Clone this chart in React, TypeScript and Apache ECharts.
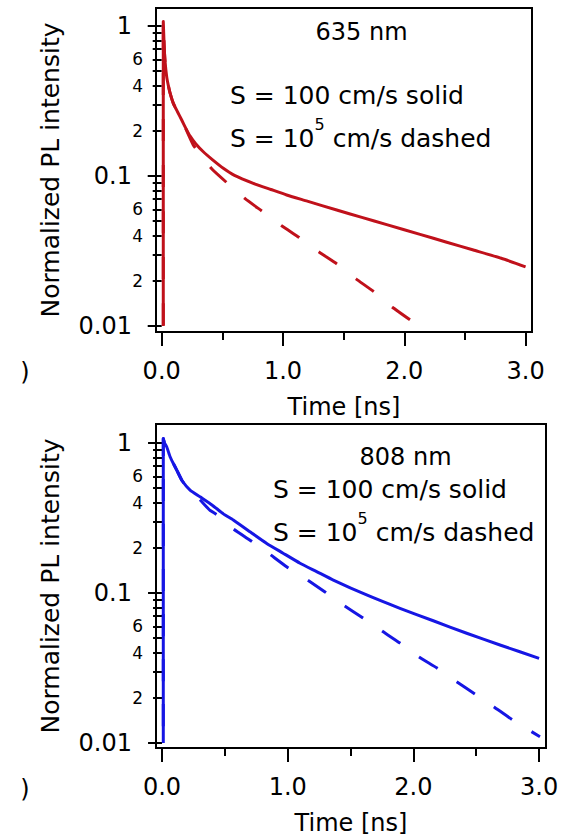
import React, { useEffect, useRef } from "react";
import * as echarts from "echarts";

// ---- data ----
const topSolidT = [0.013, 0.013, 0.02, 0.027, 0.041, 0.055, 0.068, 0.096, 0.13, 0.165, 0.2, 0.233, 0.28, 0.343, 0.42, 0.508, 0.6, 0.755, 0.9, 1.03, 1.2, 1.443, 1.65, 1.855, 2.13, 2.35, 2.57, 2.8, 3.0];
const topSolidV = [0.01, 1.07, 0.75, 0.59, 0.46, 0.4, 0.36, 0.305, 0.268, 0.236, 0.207, 0.185, 0.164, 0.145, 0.128, 0.1125, 0.101, 0.0894, 0.0813, 0.0747, 0.068, 0.0593, 0.053, 0.0474, 0.0408, 0.0362, 0.0321, 0.0283, 0.0248];
const topDashT = [0.013, 0.013, 0.02, 0.027, 0.041, 0.055, 0.068, 0.096, 0.13, 0.165, 0.2, 0.26, 0.34, 0.42, 0.54, 0.69, 0.838, 0.992, 1.14, 1.297, 1.445, 1.602, 1.75, 1.899, 2.047];
const topDashV = [0.01, 1.07, 0.75, 0.59, 0.46, 0.4, 0.36, 0.305, 0.268, 0.236, 0.205, 0.161, 0.132, 0.11, 0.0898, 0.0703, 0.0575, 0.0464, 0.0386, 0.0311, 0.0259, 0.0206, 0.0169, 0.0134, 0.011];

const botSolidT = [0.01, 0.01, 0.02, 0.037, 0.064, 0.09, 0.117, 0.16, 0.223, 0.302, 0.4, 0.488, 0.567, 0.7, 0.833, 0.96, 1.098, 1.23, 1.363, 1.628, 1.893, 2.158, 2.424, 2.689, 3.0];
const botSolidV = [0.01, 1.07, 1.0, 0.945, 0.81, 0.73, 0.66, 0.56, 0.486, 0.438, 0.385, 0.337, 0.307, 0.256, 0.214, 0.185, 0.158, 0.139, 0.122, 0.097, 0.079, 0.0653, 0.0539, 0.045, 0.0367];
const botDashT = [0.01, 0.01, 0.02, 0.037, 0.064, 0.09, 0.117, 0.16, 0.223, 0.3, 0.38, 0.44, 0.557, 0.7, 0.843, 0.994, 1.146, 1.297, 1.44, 1.599, 1.75, 1.893, 2.045, 2.188, 2.347, 2.49, 2.641, 2.792, 3.007];
const botDashV = [0.01, 1.07, 1.0, 0.945, 0.81, 0.73, 0.66, 0.56, 0.48, 0.42, 0.357, 0.331, 0.271, 0.225, 0.185, 0.149, 0.124, 0.1016, 0.0832, 0.0681, 0.0558, 0.0464, 0.0374, 0.0316, 0.0255, 0.0212, 0.0174, 0.0142, 0.011];

const xMajorTicks = [0, 1, 2, 3];
const xMinorTicks = [0.5, 1.5, 2.5];
const yMajorTicks = [0.01, 0.1, 1];
const yMinorTicks = [0.02, 0.03, 0.04, 0.05, 0.06, 0.07, 0.08, 0.09, 0.2, 0.3, 0.4, 0.5, 0.6, 0.7, 0.8, 0.9];
const yMinorLabels = [0.02, 0.04, 0.06, 0.2, 0.4, 0.6];

const RED = "#c0111b";
const BLUE = "#1616e4";
const FONT = "DejaVu Sans";

const zip = (t: number[], v: number[]) => t.map((x, i) => [x, v[i]]);

const majorFmt = (v: number) => {
  const e = Math.round(Math.log10(v));
  return e >= 0 ? "1" : e === -1 ? "0.1" : "0.01";
};
const minorFmt = (v: number) => {
  const e = Math.floor(Math.log10(v) + 1e-9);
  return String(Math.round(v / Math.pow(10, e)));
};

function xAxes(grid: number, min: number, max: number) {
  return [
    {
      type: "value", gridIndex: grid, min, max, position: "bottom",
      axisLine: { show: false }, splitLine: { show: false },
      axisTick: { show: true, customValues: xMajorTicks, length: 14, lineStyle: { color: "#000", width: 2 } },
      axisLabel: { customValues: xMajorTicks, formatter: (v: number) => v.toFixed(1), fontSize: 24, fontFamily: FONT, color: "#000", margin: 27 },
      name: "Time [ns]", nameLocation: "middle", nameGap: 63,
      nameTextStyle: { fontSize: 24, fontFamily: FONT, color: "#000" },
    },
    {
      type: "value", gridIndex: grid, min, max, position: "bottom",
      axisLine: { show: false }, splitLine: { show: false },
      axisTick: { show: true, customValues: xMinorTicks, length: 8, lineStyle: { color: "#000", width: 2 } },
      axisLabel: { show: false },
    },
  ];
}

function yAxes(grid: number, min: number, max: number) {
  return [
    {
      type: "log", logBase: 10, gridIndex: grid, min, max, position: "left",
      axisLine: { show: false }, splitLine: { show: false }, minorSplitLine: { show: false },
      axisTick: { show: true, customValues: yMajorTicks, length: 14, lineStyle: { color: "#000", width: 2 } },
      axisLabel: { customValues: yMajorTicks, formatter: majorFmt, fontSize: 24, fontFamily: FONT, color: "#000", margin: 24 },
      name: "Normalized PL intensity", nameLocation: "middle", nameGap: 93,
      nameTextStyle: { fontSize: 25, fontFamily: FONT, color: "#000" },
    },
    {
      type: "log", logBase: 10, gridIndex: grid, min, max, position: "left",
      axisLine: { show: false }, splitLine: { show: false },
      axisTick: { show: true, customValues: yMinorTicks, length: 9, lineStyle: { color: "#000", width: 2 } },
      axisLabel: { customValues: yMinorLabels, formatter: minorFmt, fontSize: 17, fontFamily: FONT, color: "#000", margin: 13 },
    },
  ];
}

function line(data: number[][], xi: number, yi: number, color: string, dash?: number[], dashOffset = 0) {
  return {
    type: "line", xAxisIndex: xi, yAxisIndex: yi, data, showSymbol: false, symbol: "none",
    smooth: 0.15, silent: true,
    lineStyle: { color, width: 3, type: dash ? dash : "solid", dashOffset, cap: "butt", join: "round" },
  };
}

function txt(x: number, y: number, text: string, size: number, align: string, rich?: any) {
  return {
    type: "text", x, y, silent: true,
    style: {
      text, fontSize: size, fontFamily: FONT, fill: "#000",
      align, verticalAlign: "middle", textAlign: align, textVerticalAlign: "middle",
      ...(rich ? { rich } : {}),
    },
  };
}

const supRich = {
  a: { fontSize: 25, fontFamily: FONT, fill: "#000", color: "#000", lineHeight: 44, verticalAlign: "middle" },
  s: { fontSize: 16, fontFamily: FONT, fill: "#000", color: "#000", lineHeight: 16, verticalAlign: "top" },
};

export default function App() {
  const ref = useRef<HTMLDivElement>(null);
  useEffect(() => {
    if (!ref.current) return;
    const chart = echarts.init(ref.current, undefined, { renderer: "svg" });
    chart.setOption({
      animation: false,
      backgroundColor: "#fff",
      grid: [
        { left: 156, top: 8, width: 376, height: 324, show: true, borderColor: "#000", borderWidth: 2, backgroundColor: "transparent" },
        { left: 156, top: 424, width: 390, height: 324, show: true, borderColor: "#000", borderWidth: 2, backgroundColor: "transparent" },
      ],
      xAxis: [...xAxes(0, -0.047, 3.053), ...xAxes(1, -0.048, 3.055)],
      yAxis: [...yAxes(0, 0.00912, 1.318), ...yAxes(1, 0.00926, 1.339)],
      series: [
        // dashed curves are traced from their far end so the dash pattern lines up there
        line(zip(topDashT, topDashV).reverse(), 0, 0, RED, [22, 24], 0),
        line(zip(topSolidT, topSolidV), 0, 0, RED),
        line(zip(botDashT, botDashV).reverse(), 2, 2, BLUE, [22, 23], 12),
        line(zip(botSolidT, botSolidV), 2, 2, BLUE),
      ],
      graphic: [
        txt(361.5, 32, "635 nm", 24, "center"),
        txt(230, 95, "S = 100 cm/s solid", 25, "left"),
        txt(230, 138, "{a|S = 10}{s|5}{a| cm/s dashed}", 25, "left", supRich),
        txt(405.5, 457, "808 nm", 24, "center"),
        txt(273, 489, "S = 100 cm/s solid", 25, "left"),
        txt(273, 532, "{a|S = 10}{s|5}{a| cm/s dashed}", 25, "left", supRich),
        txt(25, 372, ")", 24, "center"),
        txt(25, 789, ")", 24, "center"),
      ],
    });
    return () => chart.dispose();
  }, []);
  return <div ref={ref} style={{ position: "absolute", left: 0, top: 0, width: 568, height: 838 }} />;
}
